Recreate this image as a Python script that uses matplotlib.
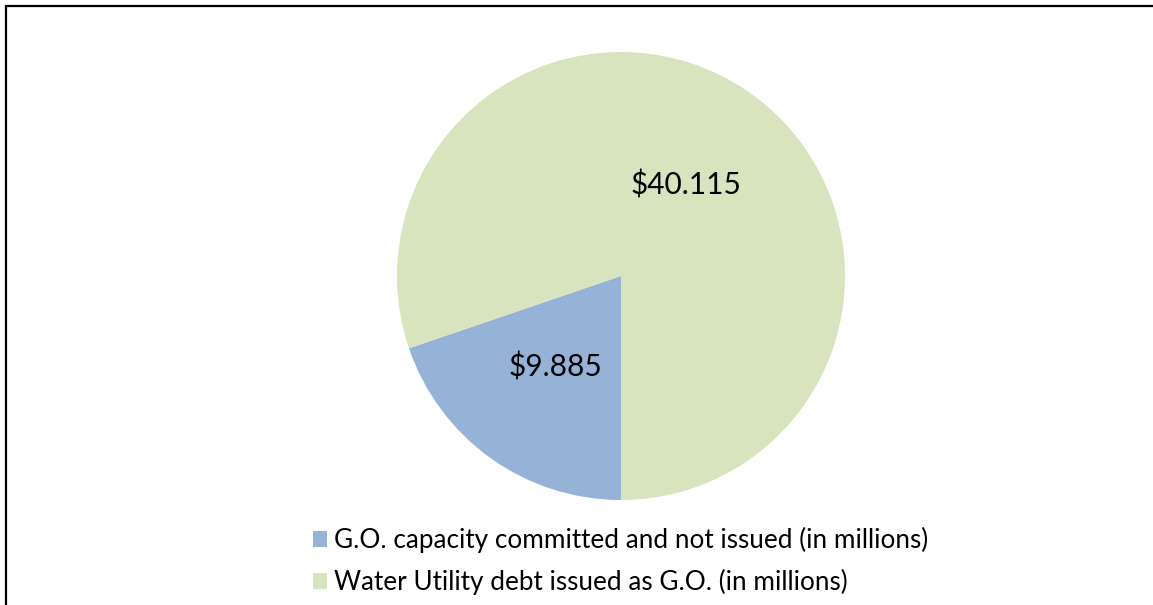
import matplotlib
matplotlib.use("Agg")
import matplotlib.pyplot as plt
from matplotlib.patches import Rectangle, Patch

categories = ["G.O. capacity committed and not issued (in millions)",
              "Water Utility debt issued as G.O. (in millions)"]
values = [9.885, 40.115]
colors = ["#95B3D7", "#D7E4BD"]

plt.rcParams['font.family'] = ['Lato', 'DejaVu Sans']

fig = plt.figure(figsize=(11.53, 6.05), dpi=100)
W, H = 1153, 605

ax = fig.add_axes([397 / W, 1 - 500 / H, 448 / W, 448 / H])
total = sum(values)
wedges, texts, autotexts = ax.pie(
    values, colors=colors, startangle=-90, counterclock=False,
    autopct=lambda p: "${:.3f}".format(p * total / 100),
    pctdistance=0.5, radius=1.0,
    textprops=dict(fontsize=21.5, color="black"))
ax.set_xlim(-1, 1)
ax.set_ylim(-1, 1)
ax.set_aspect('equal')
ax.axis('off')

handles = [Patch(facecolor=c, edgecolor='none') for c in colors]
leg = fig.legend(handles, categories, loc='upper left',
                 bbox_to_anchor=(313 / W, 1 - 527 / H),
                 frameon=False, fontsize=18.8, handlelength=0.55, handleheight=0.55,
                 handletextpad=0.25, labelspacing=0.6, borderaxespad=0, borderpad=0)

# chart frame
fig.patches.append(Rectangle((6 / W, -0.1), 1.2, 1 - 6 / H + 0.1,
                             transform=fig.transFigure, fill=False,
                             edgecolor='black', linewidth=1.6))

fig.savefig("out.png", dpi=100)
